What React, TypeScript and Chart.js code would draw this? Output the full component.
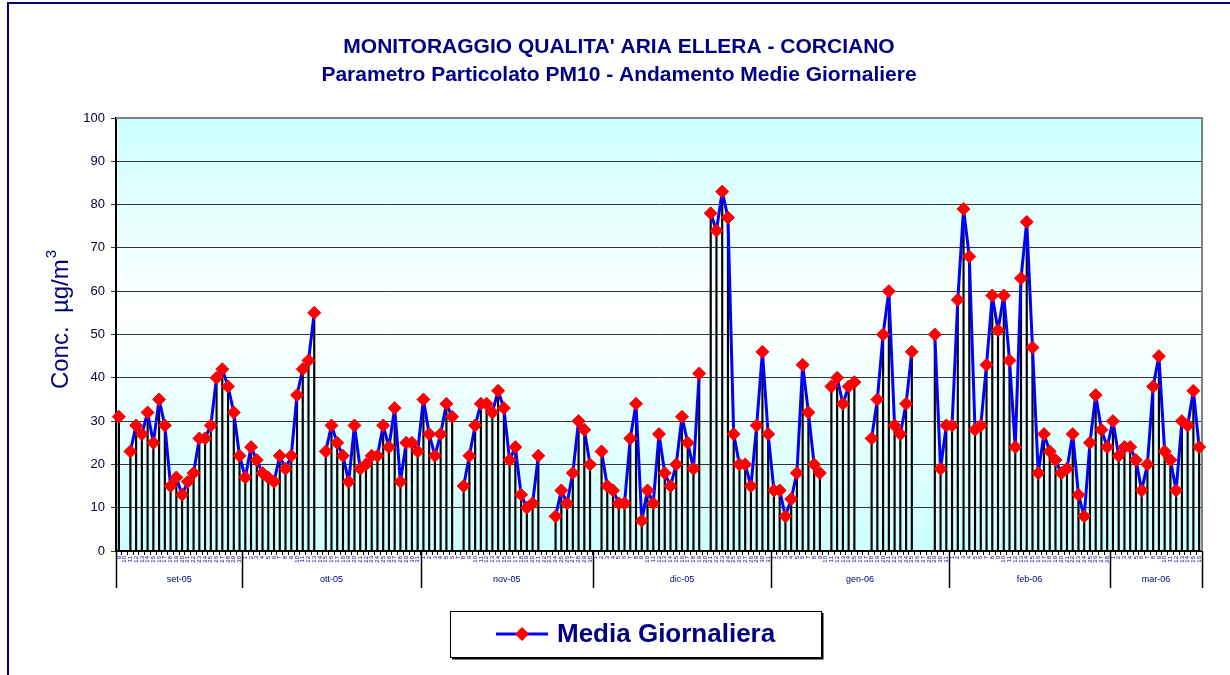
import React, { useEffect, useRef } from 'react';
import { Chart, registerables } from 'chart.js';

Chart.register(...registerables);

const titleLines = [
  "MONITORAGGIO QUALITA' ARIA ELLERA - CORCIANO",
  'Parametro Particolato PM10 - Andamento Medie Giornaliere',
];
const yAxisTitle = 'Conc.  µg/m';
const yAxisTitleSup = '3';
const seriesLabel = 'Media Giornaliera';

const months = ['set-05', 'ott-05', 'nov-05', 'dic-05', 'gen-06', 'feb-06', 'mar-06'];
const monthFirstDay = [9, 1, 1, 1, 1, 1, 1];

const pm10Set = [31, null, 23, 29, 27, 32, 25, 35, 29, 15, 17, 13, 16, 18, 26, 26, 29, 40, 42, 38, 32, 22];
const pm10Ott = [17, 24, 21, 18, 17, 16, 22, 19, 22, 36, 42, 44, 55, null, 23, 29, 25, 22, 16, 29, 19, 20, 22, 22, 29, 24, 33, 16, 25, 25, 23];
const pm10Nov = [35, 27, 22, 27, 34, 31, null, 15, 22, 29, 34, 34, 32, 37, 33, 21, 24, 13, 10, 11, 22, null, null, 8, 14, 11, 18, 30, 28, 20];
const pm10Dic = [null, 23, 15, 14, 11, 11, 26, 34, 7, 14, 11, 27, 18, 15, 20, 31, 25, 19, 41, null, 78, 74, 83, 77, 27, 20, 20, 15, 29, 46, 27];
const pm10Gen = [14, 14, 8, 12, 18, 43, 32, 20, 18, null, 38, 40, 34, 38, 39, null, null, 26, 35, 50, 60, 29, 27, 34, 46, null, null, null, 50, 19, 29];
const pm10Feb = [29, 58, 79, 68, 28, 29, 43, 59, 51, 59, 44, 24, 63, 76, 47, 18, 27, 23, 21, 18, 19, 27, 13, 8, 25, 36, 28, 24];
const pm10Mar = [30, 22, 24, 24, 21, 14, 20, 38, 45, 23, 21, 14, 30, 29, 37, 24];

const monthValues = [pm10Set, pm10Ott, pm10Nov, pm10Dic, pm10Gen, pm10Feb, pm10Mar];

const yMin = 0;
const yMax = 100;
const yStep = 10;

const NAVY = '#000080';

function buildDayLabels(): string[] {
  const out: string[] = [];
  monthValues.forEach((vals, m) => {
    vals.forEach((_, j) => out.push(String(monthFirstDay[m] + j)));
  });
  return out;
}

const decorPlugin = {
  id: 'decor',
  beforeDraw(chart: any) {
    const { ctx, chartArea: a } = chart;
    ctx.save();
    ctx.fillStyle = '#ffffff';
    ctx.fillRect(0, 0, chart.width, chart.height);
    ctx.strokeStyle = NAVY;
    ctx.lineWidth = 2;
    ctx.beginPath();
    ctx.moveTo(8, chart.height);
    ctx.lineTo(8, 3);
    ctx.lineTo(chart.width, 3);
    ctx.stroke();
    const g = ctx.createLinearGradient(0, a.top, 0, a.bottom);
    g.addColorStop(0, '#CCFFFF');
    g.addColorStop(0.45, '#FFFFFF');
    g.addColorStop(1, '#CCFFFF');
    ctx.fillStyle = g;
    ctx.fillRect(a.left, a.top, a.right - a.left, a.bottom - a.top);
    ctx.restore();
  },
  beforeDatasetsDraw(chart: any) {
    const { ctx, chartArea: a } = chart;
    ctx.save();
    ctx.strokeStyle = '#808080';
    ctx.lineWidth = 2;
    ctx.beginPath();
    ctx.moveTo(a.left, a.top);
    ctx.lineTo(a.right, a.top);
    ctx.lineTo(a.right, a.bottom);
    ctx.stroke();
    ctx.restore();
  },
  afterDraw(chart: any) {
    const { ctx, chartArea: a } = chart;
    const xs = chart.scales.x;
    ctx.save();
    // month separators and labels
    ctx.strokeStyle = '#000000';
    ctx.lineWidth = 1.5;
    ctx.font = '9px Arial';
    ctx.fillStyle = NAVY;
    ctx.textAlign = 'center';
    ctx.textBaseline = 'middle';
    let start = 0;
    const bounds: number[] = [];
    monthValues.forEach((vals) => {
      bounds.push(xs.getPixelForValue(start - 0.5));
      start += vals.length;
    });
    bounds.push(xs.getPixelForValue(start - 0.5));
    bounds.forEach((bx) => {
      ctx.beginPath();
      ctx.moveTo(Math.round(bx) + 0.5, a.bottom);
      ctx.lineTo(Math.round(bx) + 0.5, a.bottom + 37);
      ctx.stroke();
    });
    months.forEach((lab, i) => {
      ctx.fillText(lab, (bounds[i] + bounds[i + 1]) / 2, a.bottom + 29);
    });

    // y axis title
    ctx.save();
    ctx.translate(59, 320);
    ctx.rotate(-Math.PI / 2);
    ctx.font = '24px Arial';
    const w1 = ctx.measureText(yAxisTitle).width;
    ctx.font = '15px Arial';
    const w2 = ctx.measureText(yAxisTitleSup).width;
    const total = w1 + w2;
    ctx.textAlign = 'left';
    ctx.textBaseline = 'alphabetic';
    ctx.font = '24px Arial';
    ctx.fillStyle = NAVY;
    ctx.fillText(yAxisTitle, -total / 2, 9);
    ctx.font = '15px Arial';
    ctx.fillText(yAxisTitleSup, -total / 2 + w1 + 1, -3);
    ctx.restore();

    // legend box
    const lx = 450, ly = 611, lw = 371, lh = 46;
    ctx.fillStyle = '#ffffff';
    ctx.fillRect(lx, ly, lw, lh);
    ctx.strokeStyle = '#000000';
    ctx.lineWidth = 1;
    ctx.strokeRect(lx + 0.5, ly + 0.5, lw, lh);
    ctx.lineWidth = 2;
    ctx.beginPath();
    ctx.moveTo(lx + 2, ly + lh + 1.5);
    ctx.lineTo(lx + lw + 1.5, ly + lh + 1.5);
    ctx.lineTo(lx + lw + 1.5, ly + 2);
    ctx.stroke();
    const cy = ly + 23;
    ctx.strokeStyle = '#0000FF';
    ctx.lineWidth = 3;
    ctx.beginPath();
    ctx.moveTo(496, cy);
    ctx.lineTo(548, cy);
    ctx.stroke();
    ctx.fillStyle = '#FF0000';
    ctx.beginPath();
    const r = 7;
    ctx.moveTo(522 - r, cy);
    ctx.lineTo(522, cy - r);
    ctx.lineTo(522 + r, cy);
    ctx.lineTo(522, cy + r);
    ctx.closePath();
    ctx.fill();
    ctx.fillStyle = NAVY;
    ctx.font = 'bold 26px Arial';
    ctx.textAlign = 'left';
    ctx.textBaseline = 'middle';
    ctx.fillText(chart.data.datasets[0].label, 557, cy + 1);
    ctx.restore();
  },
};

export default function App() {
  const ref = useRef<HTMLCanvasElement | null>(null);
  useEffect(() => {
    if (!ref.current) return;
    const labels = buildDayLabels();
    const values = ([] as (number | null)[]).concat(...monthValues);
    const chart = new Chart(ref.current, {
      type: 'bar',
      data: {
        labels,
        datasets: [
          {
            type: 'line',
            label: seriesLabel,
            data: values,
            borderColor: '#0000FF',
            borderWidth: 3,
            borderJoinStyle: 'round',
            pointStyle: 'rectRot',
            pointRadius: 6.5,
            pointBackgroundColor: '#FF0000',
            pointBorderColor: '#FF0000',
            pointBorderWidth: 1,
            spanGaps: false,
            tension: 0,
            order: 0,
          } as any,
          {
            type: 'bar',
            label: 'drop',
            data: values,
            backgroundColor: '#000000',
            barThickness: 1.5,
            order: 1,
          } as any,
        ],
      },
      options: {
        responsive: false,
        animation: false,
        devicePixelRatio: 1,
        layout: { padding: { left: 8, right: 0, top: 0, bottom: 0 } },
        plugins: {
          legend: { display: false },
          tooltip: { enabled: false },
          title: {
            display: true,
            text: titleLines,
            color: NAVY,
            font: { family: 'Arial', size: 21, weight: 'bold', lineHeight: 28 / 21 },
            padding: { top: 33, bottom: 29 },
          },
        },
        scales: {
          x: {
            type: 'category',
            offset: true,
            grid: {
              display: true,
              drawOnChartArea: false,
              drawTicks: true,
              tickLength: 4,
              color: '#000000',
              offset: true,
            },
            border: { display: true, color: '#000000', width: 2 },
            ticks: {
              autoSkip: false,
              minRotation: 90,
              maxRotation: 90,
              padding: 1,
              color: NAVY,
              font: { family: 'Arial', size: 6 },
            },
            afterFit: (s: any) => {
              s.height = 124;
            },
          },
          y: {
            min: yMin,
            max: yMax,
            ticks: {
              stepSize: yStep,
              color: '#000033',
              font: { family: 'Arial', size: 13 },
              padding: 6,
            },
            grid: {
              color: '#333333',
              lineWidth: 1,
              drawTicks: true,
              tickLength: 5,
            },
            border: { display: true, color: '#000000', width: 2 },
            afterFit: (s: any) => {
              s.width = 108;
            },
          },
          yRight: {
            position: 'right',
            display: true,
            ticks: { display: false },
            grid: { display: false, drawTicks: false },
            border: { display: false },
            afterFit: (s: any) => {
              s.width = 28;
            },
          },
        },
      },
      plugins: [decorPlugin],
    });
    return () => chart.destroy();
  }, []);
  return (
    <div style={{ position: 'absolute', left: 0, top: 0, width: 1230, height: 675 }}>
      <canvas ref={ref} width={1230} height={675} style={{ width: 1230, height: 675 }} />
    </div>
  );
}
